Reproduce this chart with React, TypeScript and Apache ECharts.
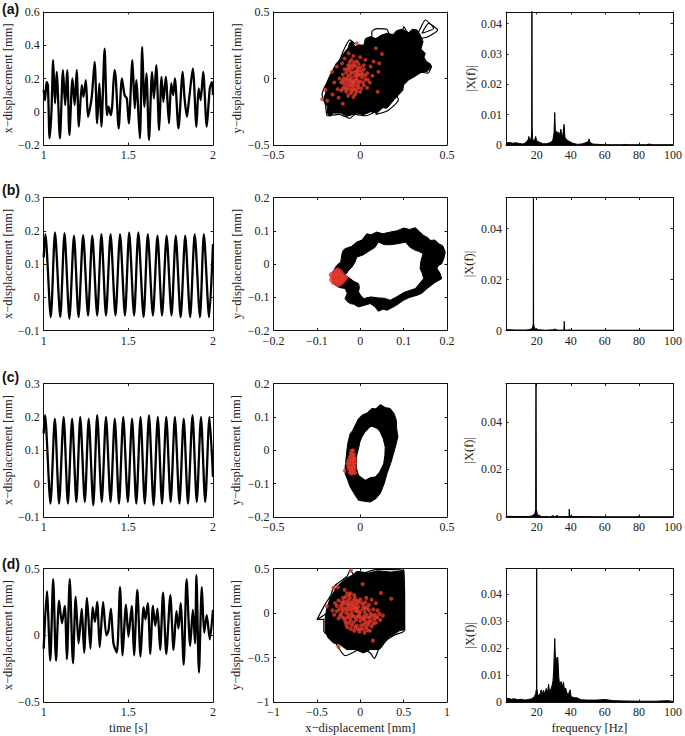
import React, { useEffect, useRef } from "react";
import * as echarts from "echarts";

const SERIF = "'Liberation Serif','Times New Roman',serif";
const RED = "#e2392c";

// ---- time series (t [s], x-displacement [mm])
const timeA = [[1,0.13],[1.008,0.07],[1.017,0.18],[1.025,0.16],[1.035,-0.16],[1.046,0],[1.056,0.31],[1.067,0.05],[1.077,0.24],[1.096,-0.16],[1.114,0.25],[1.127,0.04],[1.139,0.25],[1.152,-0.14],[1.17,0.2],[1.183,0.04],[1.195,0.25],[1.208,-0.09],[1.225,0.16],[1.235,0.09],[1.249,0.19],[1.262,-0.03],[1.283,0.08],[1.301,0.3],[1.316,-0.07],[1.329,0.17],[1.341,-0.09],[1.36,0.38],[1.374,-0.02],[1.383,0.03],[1.397,-0.02],[1.405,0.04],[1.418,0.25],[1.426,0.2],[1.443,-0.1],[1.462,0.2],[1.478,0.1],[1.491,0.08],[1.503,-0.07],[1.524,0.31],[1.538,0.02],[1.547,0.19],[1.568,-0.16],[1.582,0.39],[1.595,0.03],[1.607,0.23],[1.622,-0.17],[1.64,0.24],[1.651,0.08],[1.665,0.28],[1.682,-0.11],[1.696,0.21],[1.707,0.06],[1.721,0.21],[1.74,-0.07],[1.753,0.17],[1.765,0.1],[1.775,0.2],[1.796,-0.1],[1.821,0.24],[1.832,0.08],[1.846,-0.03],[1.857,0.06],[1.881,0.26],[1.902,-0.09],[1.915,0.14],[1.927,0.07],[1.942,0.24],[1.963,-0.09],[1.981,0.14],[1.994,0.18],[2,0.1]];
const timeB = [[1,0.12],[1.01,0.19],[1.042,-0.06],[1.067,0.195],[1.098,-0.06],[1.123,0.193],[1.152,-0.065],[1.179,0.185],[1.206,-0.06],[1.233,0.187],[1.262,-0.055],[1.287,0.185],[1.316,-0.055],[1.341,0.19],[1.368,-0.055],[1.395,0.19],[1.424,-0.055],[1.451,0.19],[1.48,-0.055],[1.505,0.195],[1.534,-0.055],[1.559,0.195],[1.59,-0.06],[1.615,0.19],[1.645,-0.055],[1.672,0.185],[1.699,-0.055],[1.726,0.185],[1.755,-0.055],[1.78,0.185],[1.809,-0.06],[1.836,0.185],[1.865,-0.06],[1.892,0.19],[1.923,-0.06],[1.946,0.19],[1.977,-0.06],[2,0.16]];
const timeC = [[1,0.15],[1.008,0.205],[1.04,-0.06],[1.066,0.195],[1.091,-0.06],[1.118,0.2],[1.143,-0.06],[1.168,0.195],[1.193,-0.055],[1.216,0.2],[1.243,-0.055],[1.266,0.195],[1.293,-0.065],[1.316,0.205],[1.343,-0.055],[1.368,0.2],[1.395,-0.055],[1.42,0.195],[1.445,-0.06],[1.47,0.2],[1.497,-0.055],[1.522,0.195],[1.547,-0.06],[1.572,0.2],[1.597,-0.06],[1.622,0.205],[1.649,-0.065],[1.674,0.2],[1.699,-0.06],[1.724,0.2],[1.75,-0.055],[1.775,0.2],[1.802,-0.06],[1.827,0.195],[1.852,-0.06],[1.879,0.205],[1.904,-0.055],[1.929,0.2],[1.954,-0.055],[1.979,0.2],[2,0.02]];
const timeD = [[1,-0.1],[1.019,0.33],[1.039,-0.19],[1.056,0.42],[1.073,-0.19],[1.091,0.26],[1.108,0.09],[1.125,0.22],[1.137,-0.18],[1.154,0.42],[1.173,-0.21],[1.189,0.29],[1.206,-0.06],[1.225,0.2],[1.239,-0.13],[1.256,0.28],[1.276,-0.1],[1.289,0.21],[1.303,0.1],[1.316,0.25],[1.331,-0.09],[1.351,0.25],[1.37,0],[1.382,0.03],[1.397,0.2],[1.412,-0.06],[1.432,-0.13],[1.451,0.36],[1.466,-0.15],[1.486,0.23],[1.501,-0.01],[1.52,0.22],[1.534,-0.15],[1.553,0.34],[1.572,-0.16],[1.59,0.21],[1.601,0.12],[1.615,0.24],[1.63,-0.14],[1.645,0.22],[1.659,0.07],[1.672,0.2],[1.688,-0.11],[1.705,0.32],[1.724,-0.14],[1.748,0.3],[1.767,-0.11],[1.784,0.18],[1.796,0.05],[1.809,0.24],[1.827,-0.22],[1.844,0.42],[1.865,-0.08],[1.881,0.19],[1.894,-0.06],[1.902,0.45],[1.917,-0.28],[1.934,0.36],[1.948,0.02],[1.963,0.15],[1.981,-0.03],[2,0.19]];

// ---- phase portraits: band outlines
const hullA = [[-0.202,-0.065],[-0.19,-0.02],[-0.173,0.028],[-0.16,0.06],[-0.138,0.115],[-0.125,0.13],[-0.1,0.18],[-0.087,0.203],[-0.07,0.23],[-0.06,0.27],[-0.048,0.278],[-0.03,0.24],[-0.01,0.253],[0.02,0.25],[0.03,0.3],[0.058,0.315],[0.09,0.3],[0.12,0.325],[0.154,0.34],[0.19,0.33],[0.21,0.36],[0.24,0.37],[0.28,0.345],[0.3,0.37],[0.327,0.365],[0.345,0.33],[0.362,0.278],[0.35,0.22],[0.375,0.19],[0.365,0.15],[0.375,0.128],[0.404,0.11],[0.41,0.085],[0.385,0.053],[0.35,0.045],[0.308,0.01],[0.28,-0.01],[0.25,-0.048],[0.245,-0.09],[0.212,-0.135],[0.195,-0.16],[0.154,-0.223],[0.13,-0.22],[0.096,-0.26],[0.06,-0.25],[0.019,-0.273],[-0.02,-0.26],[-0.077,-0.285],[-0.11,-0.26],[-0.154,-0.26],[-0.175,-0.285],[-0.192,-0.26],[-0.19,-0.21],[-0.212,-0.16],[-0.2,-0.11]];
const hullD = [[-0.404,-0.056],[-0.385,0.06],[-0.346,0.169],[-0.32,0.21],[-0.269,0.3],[-0.22,0.34],[-0.154,0.393],[-0.1,0.42],[-0.038,0.468],[0.1,0.45],[0.2,0.475],[0.35,0.46],[0.5,0.476],[0.505,0.2],[0.512,-0.187],[0.45,-0.2],[0.385,-0.243],[0.33,-0.27],[0.288,-0.318],[0.25,-0.38],[0.212,-0.412],[0.12,-0.41],[0.038,-0.449],[-0.06,-0.41],[-0.154,-0.412],[-0.24,-0.35],[-0.308,-0.337],[-0.37,-0.28],[-0.404,-0.206]];
const ringBOuter = [[-0.065,-0.029],[-0.058,-0.012],[-0.054,-0.004],[-0.045,0.006],[-0.042,0.031],[-0.04,0.04],[-0.035,0.046],[-0.02,0.053],[-0.008,0.066],[0.004,0.072],[0.015,0.091],[0.025,0.088],[0.038,0.096],[0.052,0.091],[0.069,0.096],[0.085,0.1],[0.1,0.108],[0.114,0.104],[0.127,0.109],[0.136,0.098],[0.146,0.086],[0.155,0.08],[0.162,0.071],[0.172,0.072],[0.181,0.061],[0.19,0.055],[0.196,0.036],[0.193,0.018],[0.188,0.001],[0.179,-0.006],[0.177,-0.014],[0.184,-0.028],[0.188,-0.044],[0.172,-0.056],[0.154,-0.074],[0.142,-0.088],[0.131,-0.094],[0.113,-0.101],[0.1,-0.109],[0.082,-0.125],[0.062,-0.139],[0.052,-0.136],[0.042,-0.142],[0.033,-0.128],[0.023,-0.119],[0.01,-0.124],[-0.004,-0.129],[-0.015,-0.121],[-0.023,-0.119],[-0.03,-0.113],[-0.035,-0.104],[-0.03,-0.088],[-0.035,-0.074],[-0.05,-0.07],[-0.062,-0.059]];
const ringBInner = [[-0.035,-0.034],[-0.026,-0.018],[-0.019,-0.009],[-0.012,0.006],[-0.008,0.021],[0.006,0.027],[0.023,0.041],[0.034,0.05],[0.042,0.066],[0.056,0.058],[0.069,0.058],[0.087,0.061],[0.104,0.066],[0.115,0.05],[0.127,0.041],[0.135,0.038],[0.145,0.031],[0.14,0.01],[0.138,-0.014],[0.143,-0.028],[0.146,-0.044],[0.136,-0.06],[0.127,-0.074],[0.113,-0.08],[0.1,-0.086],[0.085,-0.098],[0.069,-0.109],[0.055,-0.103],[0.042,-0.102],[0.024,-0.099],[0.008,-0.104],[0.001,-0.094],[-0.004,-0.084],[-0.002,-0.07],[-0.004,-0.059],[-0.015,-0.052],[-0.023,-0.044]];
const ringCOuter = [[-0.087,-0.05],[-0.082,-0.025],[-0.077,0],[-0.07,0.025],[-0.058,0.05],[-0.045,0.058],[-0.029,0.075],[-0.012,0.093],[0.01,0.105],[0.04,0.112],[0.067,0.125],[0.09,0.124],[0.115,0.137],[0.145,0.128],[0.173,0.125],[0.195,0.11],[0.208,0.09],[0.21,0.065],[0.217,0.04],[0.205,0.015],[0.192,-0.01],[0.175,-0.04],[0.154,-0.07],[0.138,-0.1],[0.115,-0.13],[0.09,-0.145],[0.058,-0.155],[0.025,-0.153],[-0.01,-0.15],[-0.035,-0.13],[-0.058,-0.11],[-0.072,-0.09],[-0.087,-0.07]];
const ringCInner = [[-0.01,0.005],[-0.002,0.025],[0.01,0.04],[0.028,0.055],[0.048,0.065],[0.062,0.072],[0.077,0.07],[0.098,0.065],[0.115,0.055],[0.132,0.035],[0.144,0.01],[0.142,-0.015],[0.135,-0.04],[0.112,-0.065],[0.087,-0.08],[0.058,-0.082],[0.029,-0.09],[0.008,-0.082],[-0.01,-0.075],[-0.02,-0.058],[-0.023,-0.04],[-0.02,-0.015]];

// ---- phase portraits: excursions of the trajectory beyond the band
const orbitA = [[0.3,0.3],[0.337,0.353],[0.375,0.44],[0.423,0.378],[0.356,0.34],[0.394,0.415],[0.446,0.365],[0.385,0.31],[0.3,0.3],[0.067,0.3],[0.067,0.352],[0.096,0.375],[0.154,0.37],[0.173,0.315],[0.24,0.33],[0.25,0.39],[0.27,0.35],[0.38,0.13],[0.41,0.09],[0.39,0.04],[0.33,0.05],[0.21,-0.12],[0.22,-0.16],[0.16,-0.24],[0.09,-0.27],[0.1,-0.24],[0.03,-0.28],[-0.03,-0.27],[-0.06,-0.3],[-0.12,-0.27],[-0.19,-0.28],[-0.2,-0.2],[-0.22,-0.12],[-0.2,-0.05],[-0.15,0.03],[-0.1,0.2],[-0.06,0.29],[-0.03,0.26]];
const orbitD = [[-0.3,0.05],[-0.5,-0.075],[-0.404,0.1],[-0.34,0.2],[-0.3,0.3],[-0.154,0.41],[-0.115,0.48],[-0.06,0.42],[0.2,0.49],[0.5,0.48],[0.512,0],[0.512,-0.19],[0.39,-0.25],[0.31,-0.3],[0.212,-0.41],[0.162,-0.51],[0.115,-0.45],[0.019,-0.4],[-0.058,-0.43],[-0.173,-0.48],[-0.25,-0.39],[-0.31,-0.3],[-0.42,-0.2],[-0.42,-0.07],[-0.5,-0.075]];
const orbitB = [[-0.05,-0.02],[-0.03,0.02],[0.01,0.06],[0.05,0.08],[0.12,0.08],[0.165,0.05],[0.16,-0.02],[0.14,-0.08],[0.06,-0.12],[0.01,-0.11],[-0.02,-0.08],[-0.05,-0.05]];
const orbitC = [[-0.05,-0.03],[-0.04,0.03],[0.02,0.08],[0.1,0.1],[0.18,0.05],[0.16,-0.04],[0.1,-0.11],[0.02,-0.12],[-0.05,-0.08]];

// ---- phase portraits: Poincaré points (red)
const redA = [[-0.02,0.265],[0.09,0.228],[0.125,0.185],[0.077,0.128],[0.11,0.115],[0.105,0.05],[0.1,-0.1],[-0.22,-0.155],[-0.2,-0.085],[-0.19,-0.168],[-0.163,0.05],[-0.135,0.09],[-0.067,0.19],[-0.15,-0.03],[-0.125,-0.145],[-0.1,-0.19],[-0.16,-0.12],[-0.105,0.115],[-0.09,0.15],[-0.04,0.17],[0.0,0.16],[0.03,0.14],[0.02,0.1],[0.06,0.09],[0.04,0.04],[0.07,0.02],[0.055,-0.03],[-0.03,-0.01],[-0.05,0.01],[-0.02,0.03],[-0.06,-0.03],[-0.01,-0.04],[-0.04,-0.06],[-0.07,0.02],[-0.03,0.05],[-0.045,0.08],[-0.015,0.08],[-0.06,0.06],[-0.08,-0.02],[-0.09,-0.06],[-0.06,-0.08],[-0.02,-0.08],[0.0,-0.02],[0.01,0.01],[0.02,-0.05],[0.03,0.02],[-0.01,0.11],[-0.035,0.12],[-0.07,0.1],[-0.1,0.03],[-0.11,-0.03],[-0.11,-0.09],[-0.08,-0.1],[-0.05,-0.1],[-0.03,-0.12],[-0.07,-0.13],[0.0,-0.1],[-0.13,-0.08],[0.01,0.05],[-0.02,0.0],[-0.045,-0.03],[-0.065,-0.005],[-0.08,0.045],[-0.02,-0.055],[0.0,0.03],[0.02,0.07],[-0.055,0.035],[-0.035,-0.085],[-0.085,-0.08],[-0.005,0.06],[0.045,-0.01],[-0.03,0.02],[-0.05,-0.05],[-0.075,-0.045],[-0.015,-0.02],[-0.04,-0.02],[-0.06,0.125],[-0.04,-0.14],[0.04,-0.07],[-0.12,0.0],[-0.09,0.07],[-0.045,0.045],[-0.075,0.07],[-0.01,0.025],[-0.03,0.095],[-0.055,0.1],[-0.095,0.0],[-0.095,-0.035],[-0.075,-0.075],[-0.045,-0.08],[-0.01,-0.065],[0.015,-0.03],[-0.06,-0.055],[-0.02,0.06],[0.0,0.085],[-0.035,-0.035],[-0.08,0.0],[-0.055,-0.015],[-0.015,0.045],[0.015,0.03],[-0.065,0.08],[-0.1,-0.015],[-0.1,-0.075],[-0.055,-0.11],[-0.02,-0.1],[0.005,-0.075],[0.03,-0.01],[-0.04,0.1],[-0.02,0.13],[-0.05,0.14]];
const redB = [[-0.067,-0.032],[-0.064,-0.04],[-0.066,-0.048],[-0.06,-0.025],[-0.058,-0.052],[-0.056,-0.021],[-0.052,-0.018],[-0.05,-0.026],[-0.046,-0.022],[-0.043,-0.03],[-0.038,-0.036],[-0.036,-0.045],[-0.04,-0.052],[-0.045,-0.058],[-0.05,-0.062],[-0.055,-0.058],[-0.06,-0.045],[-0.055,-0.035],[-0.05,-0.04],[-0.045,-0.04],[-0.055,-0.047],[-0.05,-0.05],[-0.06,-0.035],[-0.048,-0.032],[-0.043,-0.047],[-0.053,-0.028],[-0.058,-0.03],[-0.042,-0.038],[-0.047,-0.05],[-0.062,-0.055],[-0.034,-0.04],[-0.053,-0.054]];
const redC = [[-0.05,-0.002],[-0.042,0.0],[-0.055,-0.01],[-0.035,-0.012],[-0.045,-0.012],[-0.06,-0.02],[-0.05,-0.02],[-0.04,-0.02],[-0.03,-0.024],[-0.068,-0.03],[-0.058,-0.03],[-0.048,-0.03],[-0.038,-0.03],[-0.028,-0.035],[-0.075,-0.038],[-0.062,-0.04],[-0.052,-0.04],[-0.042,-0.04],[-0.032,-0.042],[-0.07,-0.048],[-0.06,-0.05],[-0.05,-0.05],[-0.04,-0.05],[-0.03,-0.052],[-0.065,-0.056],[-0.055,-0.06],[-0.045,-0.06],[-0.035,-0.06],[-0.09,-0.061],[-0.06,-0.067],[-0.05,-0.07],[-0.04,-0.066],[-0.03,-0.068]];
const redD = [[-0.108,0.48],[-0.31,0.28],[-0.26,0.29],[-0.385,0.075],[0.027,0.325],[0.238,0.225],[0.358,0.16],[0.146,-0.31],[-0.25,-0.38],[-0.18,0.26],[-0.15,0.22],[-0.2,0.17],[-0.12,0.17],[-0.07,0.2],[-0.25,0.14],[-0.29,0.11],[-0.22,0.08],[-0.32,0.03],[-0.27,0.02],[-0.2,0.02],[-0.15,0.1],[-0.1,0.12],[-0.05,0.14],[0.0,0.15],[0.07,0.17],[0.13,0.15],[0.18,0.11],[0.1,0.09],[0.04,0.08],[-0.02,0.07],[-0.07,0.06],[-0.12,0.04],[-0.17,0.05],[-0.1,0.0],[-0.05,0.02],[0.0,0.02],[0.05,0.01],[0.1,0.03],[0.15,0.04],[0.2,0.03],[0.26,-0.03],[0.2,-0.05],[0.14,-0.03],[0.09,-0.05],[0.04,-0.04],[-0.02,-0.03],[-0.07,-0.04],[-0.13,-0.02],[-0.2,-0.05],[-0.25,-0.06],[-0.3,-0.02],[-0.17,-0.1],[-0.11,-0.08],[-0.05,-0.08],[0.0,-0.09],[0.06,-0.1],[0.12,-0.09],[0.18,-0.11],[0.23,-0.08],[0.13,-0.15],[0.07,-0.16],[0.01,-0.14],[-0.04,-0.14],[-0.1,-0.14],[-0.15,-0.16],[-0.07,-0.2],[-0.01,-0.21],[0.05,-0.22],[0.11,-0.2],[-0.03,0.11],[-0.14,0.14],[-0.22,-0.01],[-0.16,0.0],[-0.24,0.04],[-0.06,0.17],[0.02,0.11],[0.08,0.06],[0.12,-0.01],[0.17,-0.02],[-0.19,0.1],[-0.09,0.09],[-0.01,-0.01],[0.03,-0.07],[-0.08,-0.11],[-0.13,-0.11],[-0.03,-0.18],[0.03,-0.18],[0.09,-0.13],[0.16,-0.07],[-0.04,0.05],[-0.14,0.07],[0.06,0.12],[-0.21,0.12],[-0.12,-0.05],[-0.18,-0.07],[-0.15,0.03],[-0.13,0.11],[-0.18,0.13],[-0.11,0.22],[-0.09,0.04],[-0.06,0.1],[-0.03,0.02],[-0.02,0.13],[0.03,0.05],[0.06,0.05],[0.07,-0.02],[0.11,-0.05],[0.15,-0.12],[0.04,-0.13],[0.0,-0.05],[-0.04,-0.05],[-0.09,-0.03],[-0.15,-0.05],[-0.23,-0.03],[-0.27,0.08],[-0.2,0.05],[-0.17,0.18],[-0.13,0.2],[-0.11,-0.18],[-0.06,-0.16],[0.0,-0.18],[0.08,-0.19],[0.05,-0.06],[0.1,-0.1],[0.18,-0.05],[0.22,-0.01],[-0.08,0.14],[-0.16,-0.13],[-0.05,0.06],[-0.11,0.08]];

// ---- amplitude spectra (f [Hz], |X(f)|)
const specA = [[2,0.0007],[4,0.0008],[6,0.0006],[8,0.0007],[10,0.0005],[12,0.0003],[13,0.0006],[14,0.001],[15,0.0018],[15.4,0.0028],[16,0.0015],[16.6,0.002],[16.95,0.003],[17.1,0.006],[17.2,0.05],[17.35,0.006],[17.6,0.002],[18.3,0.0012],[19,0.002],[19.4,0.0028],[20,0.0014],[22,0.0008],[24,0.0004],[26,0.0004],[28,0.0008],[29.5,0.0016],[30.2,0.004],[30.6,0.0107],[31,0.004],[31.8,0.0045],[32.5,0.0035],[33,0.0042],[33.6,0.0028],[34.2,0.0052],[34.8,0.003],[35.4,0.0035],[36.1,0.0068],[36.6,0.0025],[37.5,0.0018],[39,0.0012],[41,0.0006],[44,0.0002],[47,0.0004],[49,0.0008],[50.4,0.0012],[50.8,0.002],[51.3,0.0008],[53,0.0003],[60,0.0001],[70,0.0001],[72,0.0002],[74,0.0001],[84,0.0001],[86,0.0003],[88,0.0001],[100,0.0001]];
const specB = [[2,0.0003],[8,0.0002],[14,0.0002],[16,0.0004],[17.2,0.0007],[17.7,0.0014],[18,0.003],[18.1,0.052],[18.2,0.003],[18.5,0.0014],[19.2,0.0006],[21,0.0003],[25,0.0001],[30,0.0003],[30.6,0.0006],[31.5,0.0003],[33,0.0001],[36,0.0002],[36.2,0.0036],[36.4,0.0002],[39,0.0001],[39.2,0.0005],[39.5,0.0001],[50,0.0001],[100,0.0001]];
const specC = [[2,0.0003],[8,0.0002],[15,0.0002],[17,0.0004],[18.3,0.0009],[19,0.0016],[19.4,0.0035],[19.6,0.056],[19.8,0.0035],[20.3,0.0015],[21,0.0007],[23,0.0002],[28,0.0001],[29.5,0.0005],[30,0.0005],[30.5,0.0001],[31.8,0.0005],[32.5,0.0005],[33,0.0001],[39,0.0002],[39.1,0.0033],[39.3,0.0006],[40.5,0.0002],[60,0.0001],[79,0.0001],[79.5,0.0003],[81,0.0001],[100,0.0001]];
const specD = [[2,0.0008],[3,0.0014],[5,0.001],[7,0.0012],[9,0.0008],[11,0.001],[13,0.0007],[15,0.0009],[17,0.0012],[18.5,0.0018],[19.4,0.003],[19.9,0.005],[20,0.05],[20.1,0.005],[20.8,0.0022],[22,0.003],[22.6,0.0045],[23.2,0.0028],[24,0.0044],[24.8,0.0028],[25.6,0.005],[26.4,0.0035],[27,0.0066],[27.6,0.0035],[28.4,0.0048],[29,0.006],[29.6,0.008],[30,0.012],[30.6,0.0235],[31.2,0.013],[31.8,0.0165],[32.4,0.0165],[33,0.009],[33.6,0.0055],[34.3,0.0076],[35,0.0055],[35.7,0.0074],[36.4,0.004],[37,0.0052],[37.8,0.0032],[38.6,0.0028],[39.6,0.0045],[40.2,0.002],[42,0.0016],[44,0.0015],[46,0.0008],[50,0.0007],[55,0.0007],[60,0.0009],[65,0.0005],[70,0.0004],[80,0.0003],[90,0.0003],[97,0.0005],[100,0.0002]];

const xNames = ["x\u2212displacement [mm]", "time [s]", "frequency [Hz]"];
const yDisp = "y\u2212displacement [mm]";
const ampName = "|X(f)|";

const ticksTime = [1, 1.5, 2];
const ticksFreq = [20, 40, 60, 80, 100];
const ticksA1 = [-0.2, 0, 0.2, 0.4, 0.6];
const ticksBC1 = [-0.1, 0, 0.1, 0.2, 0.3];
const ticksD1 = [-0.5, 0, 0.5];
const ticksA2 = [-0.5, 0, 0.5];
const ticksB2 = [-0.2, -0.1, 0, 0.1, 0.2];
const ticksC2y = [-0.2, -0.1, 0, 0.1, 0.2];
const ticksD2x = [-1, -0.5, 0, 0.5, 1];
const ticksD2y = [-1, -0.5, 0, 0.5];
const ticksSpecA = [0, 0.01, 0.02, 0.03, 0.04];
const ticksSpecBC = [0, 0.02, 0.04];

const COLS = [{ left: 40.5, width: 172.5 }, { left: 273.5, width: 173.5 }, { left: 506, width: 173 }];
const ROWS = [{ top: 12, height: 133 }, { top: 197.5, height: 133 }, { top: 383.5, height: 133.5 }, { top: 568.5, height: 133.5 }];
const PANEL_LABELS = ["(a)", "(b)", "(c)", "(d)"];
const PANEL_LABEL_Y = [10, 191, 378, 565];

const fmt = (v: number) => String(v).replace("-", "\u2212");

type Panel = {
  row: number; col: number; kind: "time" | "phase" | "spec";
  xr: number[]; yr: number[]; xt: number[]; yt: number[];
  yName: string; yGap: number; xName?: string; xGap?: number;
  line?: number[][]; outer?: number[][]; inner?: number[][]; red?: number[][]; redSize?: number; curve?: number;
};

const panels: Panel[] = [
  { row: 0, col: 0, kind: "time", xr: [1, 2], yr: [-0.2, 0.6], xt: ticksTime, yt: ticksA1, yName: xNames[0], yGap: 27, line: timeA },
  { row: 0, col: 1, kind: "phase", xr: [-0.5, 0.5], yr: [-0.5, 0.5], xt: ticksA2, yt: ticksA2, yName: yDisp, yGap: 24, outer: hullA, line: orbitA, red: redA, redSize: 4, curve: 0.2 },
  { row: 0, col: 2, kind: "spec", xr: [2, 100], yr: [0, 0.0438], xt: ticksFreq, yt: ticksSpecA, yName: ampName, yGap: 29, line: specA },
  { row: 1, col: 0, kind: "time", xr: [1, 2], yr: [-0.1, 0.3], xt: ticksTime, yt: ticksBC1, yName: xNames[0], yGap: 27, line: timeB },
  { row: 1, col: 1, kind: "phase", xr: [-0.2, 0.2], yr: [-0.2, 0.2], xt: ticksB2, yt: ticksB2, yName: yDisp, yGap: 30, outer: ringBOuter, inner: ringBInner, line: orbitB, red: redB, redSize: 5 },
  { row: 1, col: 2, kind: "spec", xr: [2, 100], yr: [0, 0.0522], xt: ticksFreq, yt: ticksSpecBC, yName: ampName, yGap: 31, line: specB },
  { row: 2, col: 0, kind: "time", xr: [1, 2], yr: [-0.1, 0.3], xt: ticksTime, yt: ticksBC1, yName: xNames[0], yGap: 27, line: timeC },
  { row: 2, col: 1, kind: "phase", xr: [-0.5, 0.5], yr: [-0.2, 0.2], xt: ticksA2, yt: ticksC2y, yName: yDisp, yGap: 31, outer: ringCOuter, inner: ringCInner, line: orbitC, red: redC, redSize: 4 },
  { row: 2, col: 2, kind: "spec", xr: [2, 100], yr: [0, 0.0562], xt: ticksFreq, yt: ticksSpecBC, yName: ampName, yGap: 31, line: specC },
  { row: 3, col: 0, kind: "time", xr: [1, 2], yr: [-0.5, 0.5], xt: ticksTime, yt: ticksD1, yName: xNames[0], yGap: 24, xName: xNames[1], xGap: 19, line: timeD },
  { row: 3, col: 1, kind: "phase", xr: [-1, 1], yr: [-1, 0.5], xt: ticksD2x, yt: ticksD2y, yName: yDisp, yGap: 31, xName: xNames[0], xGap: 19, outer: hullD, line: orbitD, red: redD, redSize: 4.2, curve: 0.3 },
  { row: 3, col: 2, kind: "spec", xr: [2, 100], yr: [0, 0.0494], xt: ticksFreq, yt: ticksSpecA, yName: ampName, yGap: 30, xName: xNames[2], xGap: 19, line: specD },
];

const bandItem = (outer: number[][], inner?: number[][]) => (params: any, api: any) => {
  if (params.dataIndex !== 0) return null;
  const pts = [...outer, outer[0]];
  if (inner) {
    const rev = [...inner].reverse();
    pts.push(...rev, rev[0], outer[0]);
  }
  return {
    type: "polygon",
    shape: { points: pts.map((p) => api.coord(p)) },
    style: { fill: "#000", stroke: "#000", lineWidth: 1, lineJoin: "round" },
  };
};

function buildOption() {
  const grid: any[] = [], xAxis: any[] = [], yAxis: any[] = [], series: any[] = [];
  const line = { show: true, onZero: false, lineStyle: { color: "#111", width: 1 } };
  const labelStyle = { fontFamily: SERIF, fontSize: 12, color: "#222" };
  panels.forEach((p, i) => {
    grid.push({ left: COLS[p.col].left, width: COLS[p.col].width, top: ROWS[p.row].top, height: ROWS[p.row].height, containLabel: false });
    const xi = i * 2, yi = i * 2;
    const tick = (vals: number[]) => ({ show: true, inside: true, length: 2.5, customValues: vals, lineStyle: { color: "#111", width: 1 } });
    xAxis.push({
      type: "value", gridIndex: i, min: p.xr[0], max: p.xr[1], position: "bottom", axisLine: line, axisTick: tick(p.xt), splitLine: { show: false },
      axisLabel: { ...labelStyle, margin: 4, customValues: p.xt, formatter: fmt, hideOverlap: false },
      name: p.xName, nameLocation: "middle", nameGap: p.xGap, nameTextStyle: { fontFamily: SERIF, fontSize: 12.5, color: "#222" },
    });
    xAxis.push({ type: "value", gridIndex: i, min: p.xr[0], max: p.xr[1], position: "top", axisLine: line, axisTick: tick(p.xt), axisLabel: { show: false }, splitLine: { show: false } });
    yAxis.push({
      type: "value", gridIndex: i, min: p.yr[0], max: p.yr[1], position: "left", axisLine: line, axisTick: tick(p.yt), splitLine: { show: false },
      axisLabel: { ...labelStyle, margin: 4, customValues: p.yt, formatter: fmt, hideOverlap: false },
      name: p.yName, nameLocation: "middle", nameGap: p.yGap, nameRotate: 90, nameTextStyle: { fontFamily: SERIF, fontSize: 12.5, color: "#222" },
    });
    yAxis.push({ type: "value", gridIndex: i, min: p.yr[0], max: p.yr[1], position: "right", axisLine: line, axisTick: tick(p.yt), axisLabel: { show: false }, splitLine: { show: false } });

    const ax = { xAxisIndex: xi, yAxisIndex: yi };
    if (p.kind === "time") {
      series.push({ type: "line", ...ax, data: p.line, showSymbol: false, smooth: 0.25, lineStyle: { color: "#000", width: 2.3 } });
    } else if (p.kind === "spec") {
      series.push({ type: "line", ...ax, data: p.line, showSymbol: false, lineStyle: { color: "#000", width: 1 }, areaStyle: { color: "#000", opacity: 1 }, clip: true });
    } else {
      series.push({ type: "custom", ...ax, data: p.outer, renderItem: bandItem(p.outer!, p.inner), encode: { x: 0, y: 1 }, silent: true, clip: true });
      series.push({ type: "line", ...ax, data: p.line, showSymbol: false, smooth: p.curve || 0, lineStyle: { color: "#000", width: 1.2 } });
      series.push({ type: "scatter", ...ax, data: p.red, symbol: "circle", symbolSize: p.redSize, itemStyle: { color: RED }, z: 5 });
    }
  });
  const graphic = PANEL_LABELS.map((t, i) => ({
    type: "text", left: 2, top: PANEL_LABEL_Y[i] - 8,
    style: { text: t, fontFamily: "'Liberation Sans',Arial,sans-serif", fontWeight: "bold", fontSize: 14, fill: "#111" },
  }));
  return { animation: false, backgroundColor: "#fff", grid, xAxis, yAxis, series, graphic };
}

export default function App() {
  const ref = useRef<HTMLDivElement>(null);
  useEffect(() => {
    document.body.style.margin = "0";
    const chart = echarts.init(ref.current!, null, { renderer: "svg" });
    chart.setOption(buildOption() as any);
    return () => chart.dispose();
  }, []);
  return <div ref={ref} style={{ width: 685, height: 736 }} />;
}
